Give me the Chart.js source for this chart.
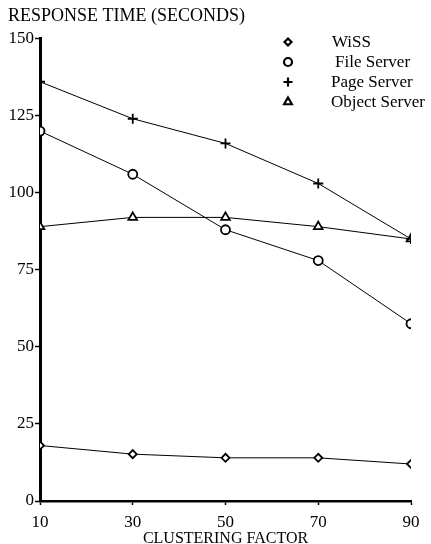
<!DOCTYPE html>
<html>
<head>
<meta charset="utf-8">
<script src="https://cdn.jsdelivr.net/npm/chart.js@4/dist/chart.umd.min.js"></script>
<style>
  html, body { margin: 0; padding: 0; background: #fff; }
  #wrap { width: 431px; height: 544px; }
</style>
</head>
<body>
<div id="wrap"><canvas id="chart" width="431" height="544"></canvas></div>
<script>
// values
const clusteringFactor = [10, 30, 50, 70, 90];
const wiss = [18, 15.2, 14, 14, 12];
const fileServer = [120, 106, 88, 78, 57.5];
const pageServer = [136, 124, 116, 103, 85];
const objectServer = [89, 92, 92, 89, 85];
const yTicks = [0, 25, 50, 75, 100, 125, 150];

const serif = '"Liberation Serif", "DejaVu Serif", serif';

function pts(vals) {
  return clusteringFactor.map((x, i) => ({ x: x, y: vals[i] }));
}

function series(label, vals, style, radius) {
  return {
    label: label,
    data: pts(vals),
    borderColor: '#000',
    borderWidth: 1,
    pointStyle: style,
    pointRadius: radius,
    pointBorderWidth: 1.8,
    pointBorderColor: '#000',
    pointBackgroundColor: '#fff',
    tension: 0
  };
}

// legend drawn inside the plot, top right, like the original
const innerLegend = {
  id: 'innerLegend',
  afterDraw(chart) {
    const ctx = chart.ctx;
    const rows = [
      { text: 'WiSS', style: 'rectRot', r: 3.5, tx: 332 },
      { text: 'File Server', style: 'circle', r: 4, tx: 335 },
      { text: 'Page Server', style: 'cross', r: 4.5, tx: 331 },
      { text: 'Object Server', style: 'triangle', r: 4.5, tx: 331 }
    ];
    ctx.save();
    ctx.font = '17px ' + serif;
    ctx.textBaseline = 'middle';
    rows.forEach((row, i) => {
      const y = 42 + i * 20;
      ctx.strokeStyle = '#000';
      ctx.fillStyle = '#fff';
      ctx.lineWidth = 2.2;
      Chart.helpers.drawPoint(ctx, { pointStyle: row.style, radius: row.r, rotation: 0, borderWidth: 2.2 }, 288, y);
      ctx.fillStyle = '#000';
      ctx.fillText(row.text, row.tx, y + 1);
    });
    ctx.restore();
  }
};

new Chart(document.getElementById('chart'), {
  type: 'line',
  data: {
    datasets: [
      series('WiSS', wiss, 'rectRot', 4),
      series('File Server', fileServer, 'circle', 4.5),
      series('Page Server', pageServer, 'cross', 5),
      series('Object Server', objectServer, 'triangle', 5)
    ]
  },
  options: {
    responsive: false,
    animation: false,
    layout: { padding: { left: 8, right: 20, top: 0, bottom: 0 } },
    plugins: {
      legend: { display: false },
      tooltip: { enabled: false },
      title: {
        display: true,
        text: 'RESPONSE TIME (SECONDS)',
        align: 'start',
        color: '#000',
        font: { family: serif, size: 18, weight: 'normal', lineHeight: 1.2 },
        padding: { top: 5, bottom: 12 }
      }
    },
    scales: {
      x: {
        type: 'linear',
        min: 10,
        max: 90,
        afterBuildTicks(axis) {
          axis.ticks = clusteringFactor.map(v => ({ value: v }));
        },
        afterFit(axis) { axis.height = 43; },
        border: { display: true, color: '#000', width: 2.5 },
        grid: { drawOnChartArea: false, drawTicks: true, tickLength: 4, color: '#000', tickWidth: 1.5 },
        ticks: { color: '#000', font: { family: serif, size: 17 }, padding: 7, maxRotation: 0 },
        title: {
          display: true,
          text: 'CLUSTERING FACTOR',
          color: '#000',
          font: { family: serif, size: 16, lineHeight: 1 },
          padding: { top: 0, bottom: -3 }
        }
      },
      y: {
        min: 0,
        max: 150,
        afterBuildTicks(axis) {
          axis.ticks = yTicks.map(v => ({ value: v }));
        },
        afterFit(axis) { axis.width = 32; },
        border: { display: true, color: '#000', width: 3 },
        grid: { drawOnChartArea: false, drawTicks: true, tickLength: 5, color: '#000', tickWidth: 1.5 },
        ticks: { color: '#000', font: { family: serif, size: 17 }, padding: 1 }
      }
    }
  },
  plugins: [innerLegend]
});
</script>
</body>
</html>
